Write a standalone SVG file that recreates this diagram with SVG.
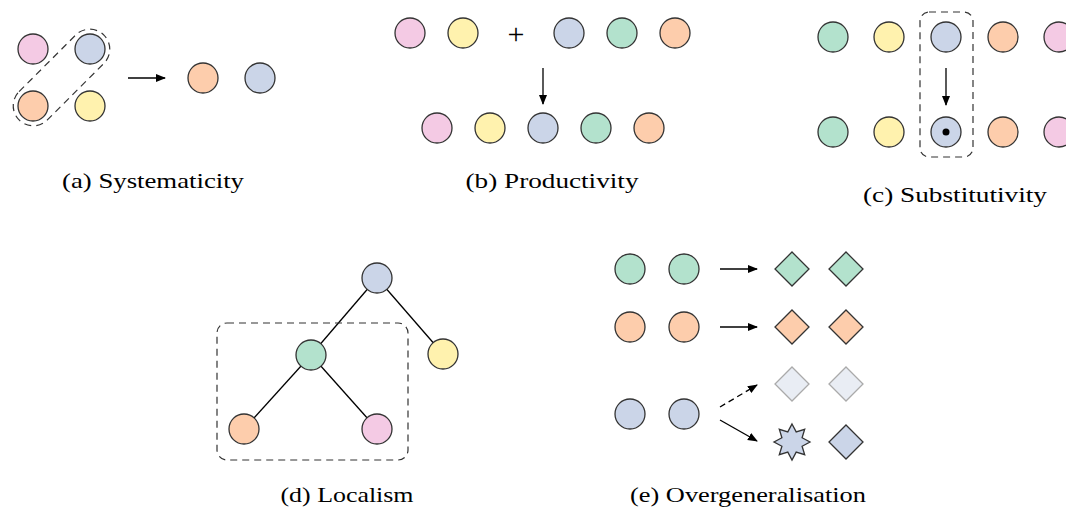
<svg xmlns="http://www.w3.org/2000/svg" width="1066" height="508" viewBox="0 0 1066 508">
<style>
.n{stroke:#333;stroke-width:1.3}
.pk{fill:#F4CAE4}.yl{fill:#FFF2AE}.bl{fill:#CBD5E8}.gr{fill:#B3E2CD}.or{fill:#FDCDAC}
.fd{fill:#E9EDF4;stroke:#AAAAAA;stroke-width:1.3}
.dash{fill:none;stroke:#333;stroke-width:1.2;stroke-dasharray:7,5}
.e{stroke:#000;stroke-width:1.3;fill:none}
.cap{font-family:"Liberation Serif","DejaVu Serif",serif;font-size:22px;fill:#000;text-anchor:middle}
</style>
<defs>
<marker id="ah" viewBox="0 0 10 10" refX="9" refY="5" markerWidth="10" markerHeight="10" markerUnits="userSpaceOnUse" orient="auto">
<path d="M0,1 L10,5 L0,9 Z" fill="#000"/>
</marker>
</defs>
<g id="connectors">
<line class="e" x1="128" y1="78" x2="165" y2="78" marker-end="url(#ah)"/>
<line class="e" x1="543" y1="68" x2="543" y2="104" marker-end="url(#ah)"/>
<line class="e" x1="946" y1="68" x2="946" y2="105" marker-end="url(#ah)"/>
<line class="e" x1="377" y1="278" x2="311" y2="355"/>
<line class="e" x1="377" y1="278" x2="443" y2="354"/>
<line class="e" x1="311" y1="355" x2="244" y2="429"/>
<line class="e" x1="311" y1="355" x2="377" y2="429"/>
<line class="e" x1="720" y1="269" x2="757" y2="269" marker-end="url(#ah)"/>
<line class="e" x1="720" y1="327" x2="757" y2="327" marker-end="url(#ah)"/>
<line class="e" x1="720" y1="407" x2="757" y2="385" stroke-dasharray="6,4" marker-end="url(#ah)"/>
<line class="e" x1="720" y1="420" x2="757" y2="441" marker-end="url(#ah)"/>
</g>
<g id="panel-a">
<rect class="dash" x="1.5" y="57.5" width="120" height="40" rx="20" transform="rotate(-45 61.5 77.5)"/>
<circle class="n pk" cx="33" cy="49" r="15"/>
<circle class="n bl" cx="90" cy="49" r="15"/>
<circle class="n or" cx="33" cy="106" r="15"/>
<circle class="n yl" cx="90" cy="106" r="15"/>
<circle class="n or" cx="203" cy="78" r="15"/>
<circle class="n bl" cx="260" cy="78" r="15"/>
<text class="cap" x="153" y="188" textLength="182" lengthAdjust="spacingAndGlyphs">(a) Systematicity</text>
</g>
<g id="panel-b">
<circle class="n pk" cx="410" cy="33" r="15"/>
<circle class="n yl" cx="463" cy="33" r="15"/>
<text x="516" y="44" fill="#000" font-family="Liberation Serif,serif" font-size="30" text-anchor="middle">+</text>
<circle class="n bl" cx="569" cy="33" r="15"/>
<circle class="n gr" cx="622" cy="33" r="15"/>
<circle class="n or" cx="675" cy="33" r="15"/>
<circle class="n pk" cx="437" cy="128" r="15"/>
<circle class="n yl" cx="490" cy="128" r="15"/>
<circle class="n bl" cx="543" cy="128" r="15"/>
<circle class="n gr" cx="596" cy="128" r="15"/>
<circle class="n or" cx="649" cy="128" r="15"/>
<text class="cap" x="552" y="188" textLength="173" lengthAdjust="spacingAndGlyphs">(b) Productivity</text>
</g>
<g id="panel-c">
<rect class="dash" x="920" y="12" width="53" height="145" rx="9"/>
<circle class="n gr" cx="833" cy="37" r="15"/>
<circle class="n yl" cx="889" cy="37" r="15"/>
<circle class="n bl" cx="946" cy="37" r="15"/>
<circle class="n or" cx="1003" cy="37" r="15"/>
<circle class="n pk" cx="1059" cy="37" r="15"/>
<circle class="n gr" cx="833" cy="132" r="15"/>
<circle class="n yl" cx="889" cy="132" r="15"/>
<circle class="n bl" cx="946" cy="132" r="15"/>
<circle cx="946" cy="132" r="3.5" fill="#000"/>
<circle class="n or" cx="1003" cy="132" r="15"/>
<circle class="n pk" cx="1059" cy="132" r="15"/>
<text class="cap" x="955" y="202" textLength="184" lengthAdjust="spacingAndGlyphs">(c) Substitutivity</text>
</g>
<g id="panel-d">
<rect class="dash" x="217" y="323" width="191" height="137" rx="10"/>
<circle class="n bl" cx="377" cy="278" r="15"/>
<circle class="n gr" cx="311" cy="355" r="15"/>
<circle class="n yl" cx="443" cy="354" r="15"/>
<circle class="n or" cx="244" cy="429" r="15"/>
<circle class="n pk" cx="377" cy="429" r="15"/>
<text class="cap" x="347" y="502" textLength="133" lengthAdjust="spacingAndGlyphs">(d) Localism</text>
</g>
<g id="panel-e">
<circle class="n gr" cx="630" cy="269" r="15"/>
<circle class="n gr" cx="684" cy="269" r="15"/>
<path class="n gr" d="M792,252 L809,269 L792,286 L775,269 Z"/>
<path class="n gr" d="M846,252 L863,269 L846,286 L829,269 Z"/>
<circle class="n or" cx="630" cy="327" r="15"/>
<circle class="n or" cx="684" cy="327" r="15"/>
<path class="n or" d="M792,310 L809,327 L792,344 L775,327 Z"/>
<path class="n or" d="M846,310 L863,327 L846,344 L829,327 Z"/>
<circle class="n bl" cx="630" cy="414" r="15"/>
<circle class="n bl" cx="684" cy="414" r="15"/>
<path class="fd" d="M792,367 L809,384 L792,401 L775,384 Z"/>
<path class="fd" d="M846,367 L863,384 L846,401 L829,384 Z"/>
<path class="n bl" d="M792,424 L796.2,431.9 L804.7,429.3 L802.1,437.8 L810,442 L802.1,446.2 L804.7,454.7 L796.2,452.1 L792,460 L787.8,452.1 L779.3,454.7 L781.9,446.2 L774,442 L781.9,437.8 L779.3,429.3 L787.8,431.9 Z"/>
<path class="n bl" d="M846,425 L863,442 L846,459 L829,442 Z"/>
<text class="cap" x="748" y="502" textLength="236" lengthAdjust="spacingAndGlyphs">(e) Overgeneralisation</text>
</g>
</svg>
